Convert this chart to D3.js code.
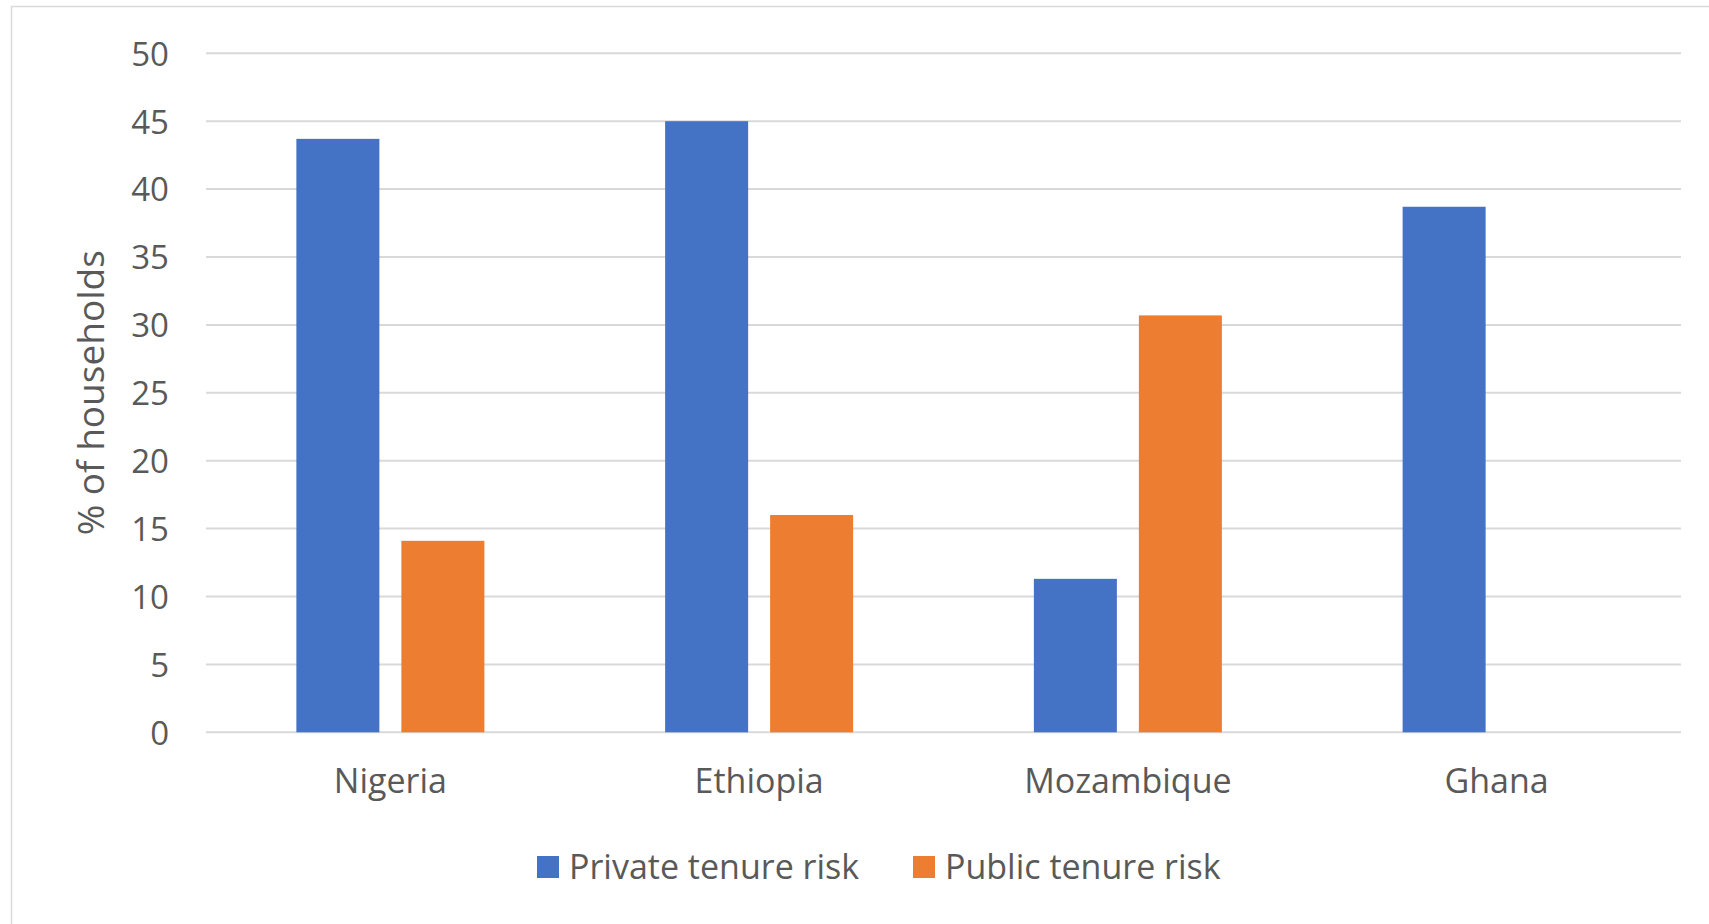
<!DOCTYPE html>
<html>
<head>
<meta charset="utf-8">
<script src="https://cdn.jsdelivr.net/npm/d3@7"></script>
<style>
  html, body { margin: 0; padding: 0; background: #ffffff; overflow: hidden; }
  svg { display: block; }
  text { font-family: "Open Sans", "Liberation Sans", sans-serif; fill: #595959; }
</style>
</head>
<body>
<svg id="chart" width="1709" height="924"></svg>
<script>
const categories = ["Nigeria", "Ethiopia", "Mozambique", "Ghana"];
const seriesNames = ["Private tenure risk", "Public tenure risk"];
const privateValues = [43.7, 45.0, 11.3, 38.7];
const publicValues = [14.1, 16.0, 30.7, null];
const yTicks = [0, 5, 10, 15, 20, 25, 30, 35, 40, 45, 50];
const colors = ["#4472C4", "#ED7D31"];
const yTitle = "% of households";

const svg = d3.select("#chart");

// chart area border (extends beyond the captured frame on right/bottom)
svg.append("rect")
  .attr("x", 11.5).attr("y", 6.5)
  .attr("width", 1800).attr("height", 1000)
  .attr("fill", "#ffffff")
  .attr("stroke", "#d9d9d9").attr("stroke-width", 1.5);

const plot = { left: 206, right: 1681, top: 53.3, bottom: 732.3 };

const y = d3.scaleLinear().domain([0, 50]).range([plot.bottom, plot.top]);
const x = d3.scaleBand().domain(categories).range([plot.left, plot.right]).padding(0);
const groupWidth = 188;
const xInner = d3.scaleBand().domain(seriesNames)
  .range([0, groupWidth]).paddingInner(22 / 105).paddingOuter(0);
const groupOffset = (x.bandwidth() - groupWidth) / 2;

// gridlines
const grid = svg.append("g").attr("class", "grid");
grid.selectAll("line").data(yTicks).join("line")
  .attr("x1", plot.left).attr("x2", plot.right)
  .attr("y1", d => y(d)).attr("y2", d => y(d))
  .attr("stroke", "#d9d9d9").attr("stroke-width", 2);

// y axis labels
const yAxis = d3.axisLeft(y).tickValues(yTicks).tickSize(0).tickPadding(0).tickFormat(d3.format("d"));
const yg = svg.append("g").attr("transform", `translate(${169},0)`).call(yAxis);
yg.select(".domain").remove();
yg.selectAll("text")
  .attr("font-size", 33)
  .attr("font-family", "'Open Sans', sans-serif")
  .attr("fill", "#595959")
  .attr("dy", "0.36em");

// bars
const data = categories.map((c, i) => ({ cat: c, vals: [privateValues[i], publicValues[i]] }));
const groups = svg.append("g").selectAll("g").data(data).join("g")
  .attr("transform", d => `translate(${x(d.cat) + groupOffset},0)`);
groups.selectAll("rect")
  .data(d => d.vals.map((v, j) => ({ series: seriesNames[j], v, j })).filter(e => e.v !== null))
  .join("rect")
  .attr("x", e => xInner(e.series))
  .attr("width", xInner.bandwidth())
  .attr("y", e => y(e.v))
  .attr("height", e => y(0) - y(e.v))
  .attr("fill", e => colors[e.j]);

// x axis labels
const xAxis = d3.axisBottom(x).tickSize(0).tickPadding(0);
const xg = svg.append("g").attr("transform", `translate(0,${plot.bottom})`).call(xAxis);
xg.select(".domain").remove();
xg.selectAll("text")
  .attr("font-size", 34)
  .attr("font-family", "'Open Sans', sans-serif")
  .attr("fill", "#595959")
  .attr("dy", null)
  .attr("y", 793.5 - plot.bottom);

// y title
svg.append("text")
  .attr("transform", `translate(${104},${(plot.top + plot.bottom) / 2}) rotate(-90)`)
  .attr("text-anchor", "middle")
  .attr("font-size", 37)
  .text(yTitle);

// legend
const legendY = 867;
const legendItems = [
  { name: seriesNames[0], color: colors[0], sx: 537 },
  { name: seriesNames[1], color: colors[1], sx: 913 }
];
const lg = svg.append("g").selectAll("g").data(legendItems).join("g")
  .attr("transform", d => `translate(${d.sx},${legendY})`);
lg.append("rect").attr("x", 0).attr("y", -11).attr("width", 22).attr("height", 22)
  .attr("fill", d => d.color);
lg.append("text").attr("x", 32).attr("y", 0).attr("dy", "0.36em")
  .attr("font-size", 34).text(d => d.name);
</script>
</body>
</html>
